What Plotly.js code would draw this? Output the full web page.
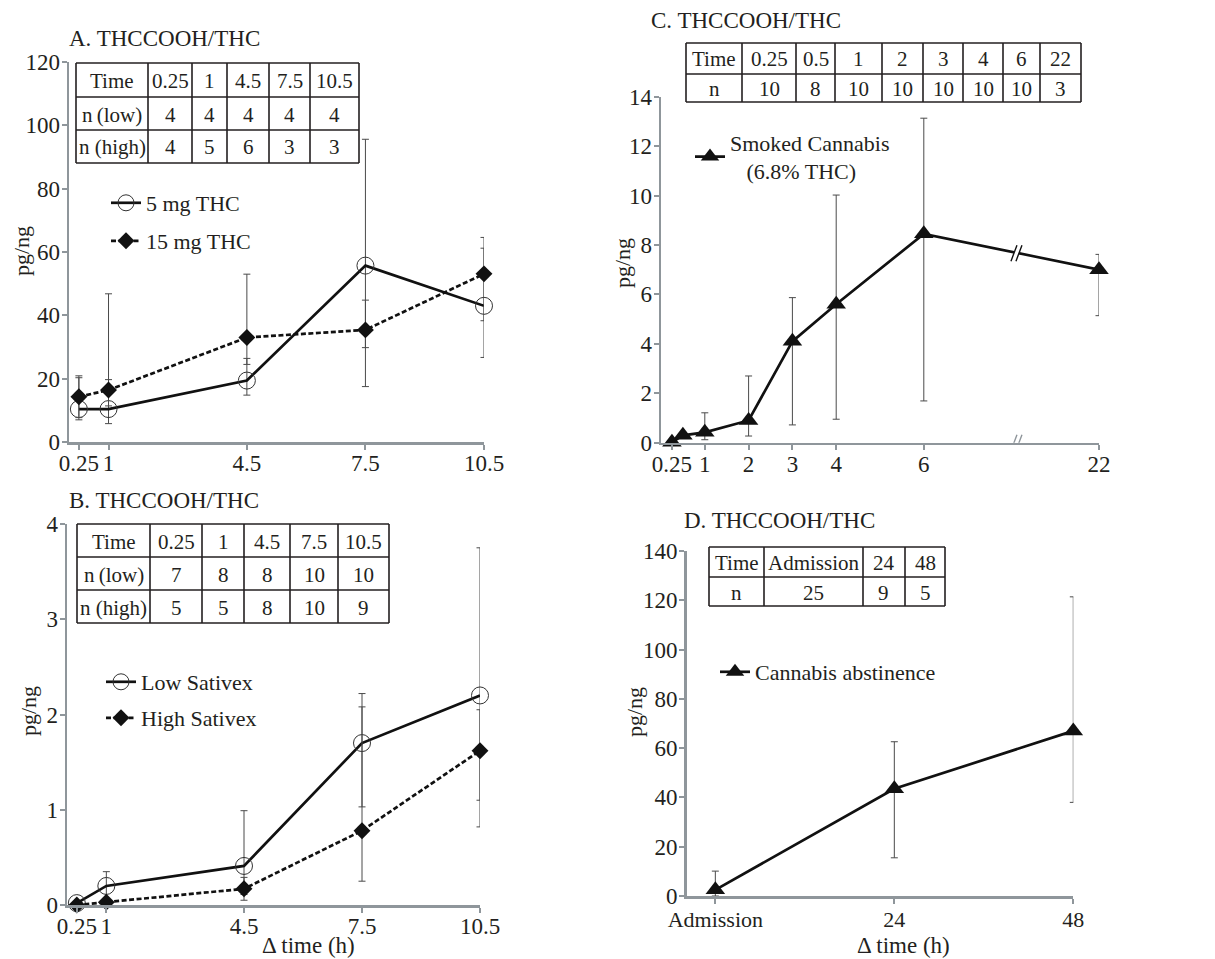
<!DOCTYPE html>
<html>
<head>
<meta charset="utf-8">
<script src="https://cdn.plot.ly/plotly-3.0.1.min.js"></script>
<style>html,body{margin:0;padding:0;background:#fff;}#chart{width:1215px;height:959px;}</style>
</head>
<body>
<div id="chart"></div>
<script>
// ---------------- DATA ----------------
// Panel A
const timesA = [0.25, 1, 4.5, 7.5, 10.5];
const timeLabelsA = ['0.25', '1', '4.5', '7.5', '10.5'];
const lowA = [10.4, 10.4, 19.4, 55.7, 43.0];
const lowA_plus = [9.9, 9.3, 7.0, 39.9, 18.2];
const lowA_minus = [3.4, 4.6, 4.6, 38.2, 16.3];
const highA = [14.3, 16.4, 33.0, 35.4, 53.1];
const highA_plus = [6.6, 30.4, 20.0, 9.4, 11.5];
const highA_minus = [6.6, 5.0, 8.5, 5.6, 14.8];
const nLowA = ['4', '4', '4', '4', '4'];
const nHighA = ['4', '5', '6', '3', '3'];

// Panel B
const timesB = [0.25, 1, 4.5, 7.5, 10.5];
const timeLabelsB = ['0.25', '1', '4.5', '7.5', '10.5'];
const lowB = [0.02, 0.20, 0.41, 1.70, 2.20];
const lowB_plus = [0.0, 0.15, 0.58, 0.52, 1.55];
const lowB_minus = [0.02, 0.15, 0.30, 0.67, 1.10];
const highB = [0.0, 0.03, 0.17, 0.78, 1.62];
const highB_plus = [0.0, 0.02, 0.12, 1.30, 0.43];
const highB_minus = [0.0, 0.03, 0.12, 0.53, 0.80];
const nLowB = ['7', '8', '8', '10', '10'];
const nHighB = ['5', '5', '8', '10', '9'];

// Panel C
const timesC = [0.25, 0.5, 1, 2, 3, 4, 6, 22];
const tableTimeC = ['0.25', '0.5', '1', '2', '3', '4', '6', '22'];
const tickTimesC = [0.25, 1, 2, 3, 4, 6, 22];
const tickLabelsC = ['0.25', '1', '2', '3', '4', '6', '22'];
const smokedC = [0.02, 0.30, 0.42, 0.90, 4.10, 5.60, 8.45, 7.00];
const smokedC_plus = [0.0, 0.10, 0.79, 1.80, 1.77, 4.42, 4.68, 0.62];
const smokedC_minus = [0.0, 0.10, 0.30, 0.63, 3.38, 4.65, 6.76, 1.86];
const nC = ['10', '8', '10', '10', '10', '10', '10', '3'];

// Panel D
const catsD = ['Admission', '24', '48'];
const abstD = [2.5, 43.5, 67.0];
const abstD_plus = [7.6, 19.1, 54.4];
const abstD_minus = [2.5, 28.0, 29.0];
const nD = ['25', '9', '5'];

// ---------------- STYLE / HELPERS ----------------
const W = 1215, H = 959;
const FONT = 'Liberation Serif, Times New Roman, serif';
const TXT = '#231f20';
const AXC = '#8f969b';
const ERRC = '#4a4a4a';
const px = v => v / W;
const py = v => 1 - v / H;

// broken axis in panel C: times after 6 h are drawn at 6 + 4 units
const BREAK_AT = 6, BREAK_POS = 10;
const brokenX = t => (t <= BREAK_AT ? t : BREAK_POS);

const shapes = [];
const annotations = [];

function addTable(colEdges, rowEdges, rows, fs) {
  const x0 = colEdges[0], x1 = colEdges[colEdges.length - 1];
  const y0 = rowEdges[0], y1 = rowEdges[rowEdges.length - 1];
  const ln = {color: TXT, width: 1.6};
  colEdges.forEach(c => shapes.push({type: 'line', xref: 'paper', yref: 'paper', x0: px(c), x1: px(c), y0: py(y0), y1: py(y1), line: ln}));
  rowEdges.forEach(r => shapes.push({type: 'line', xref: 'paper', yref: 'paper', x0: px(x0), x1: px(x1), y0: py(r), y1: py(r), line: ln}));
  rows.forEach((row, ri) => {
    row.forEach((txt, ci) => {
      annotations.push({
        xref: 'paper', yref: 'paper',
        x: px((colEdges[ci] + colEdges[ci + 1]) / 2),
        y: py((rowEdges[ri] + rowEdges[ri + 1]) / 2 + 1),
        text: txt, showarrow: false, xanchor: 'center', yanchor: 'middle',
        font: {family: FONT, size: fs, color: TXT}
      });
    });
  });
}

function label(text, x, y, xanchor, size, angle) {
  annotations.push({xref: 'paper', yref: 'paper', x: px(x), y: py(y), text: text, showarrow: false,
    xanchor: xanchor, yanchor: 'middle', textangle: angle || 0,
    font: {family: FONT, size: size, color: TXT}});
}

// Tables
addTable([76, 148, 192, 227, 269, 310, 359], [63, 97, 130, 163],
  [['Time'].concat(timeLabelsA), ['n\u2009(low)'].concat(nLowA), ['n (high)'].concat(nHighA)], 21);
addTable([77, 150, 202, 244, 290, 338, 389], [524, 557, 590, 623],
  [['Time'].concat(timeLabelsB), ['n\u2009(low)'].concat(nLowB), ['n (high)'].concat(nHighB)], 21);
addTable([686, 742, 796, 835, 882, 923, 963, 1003, 1040, 1081], [43, 74, 102],
  [['Time'].concat(tableTimeC), ['n'].concat(nC)], 21);
addTable([709, 764, 863, 905, 945], [547, 577, 606],
  [['Time'].concat(catsD), ['n', nD[0], nD[1], nD[2]]], 21);

// Panel titles
label('A. THCCOOH/THC', 67, 39, 'left', 23);
label('B. THCCOOH/THC', 67, 500, 'left', 23);
label('C. THCCOOH/THC', 649, 21, 'left', 23);
label('D. THCCOOH/THC', 682, 520, 'left', 23);
// axis titles
label('pg/ng', 21, 251, 'center', 22, -90);
label('pg/ng', 28, 711, 'center', 22, -90);
label('pg/ng', 622, 263, 'center', 22, -90);
label('pg/ng', 634, 712, 'center', 22, -90);
label('\u0394 time (h)', 308, 945, 'center', 23);
label('\u0394 time (h)', 903, 945, 'center', 23);

// Axis break marks for panel C
function breakMark(xv, yv, color) {
  shapes.push({type: 'path', xref: 'x3', yref: 'y3', xsizemode: 'pixel', ysizemode: 'pixel',
    xanchor: xv, yanchor: yv, path: 'M -7 -8 L -1 8 L 4 8 L -2 -8 Z', fillcolor: '#ffffff', line: {width: 0}});
  shapes.push({type: 'path', xref: 'x3', yref: 'y3', xsizemode: 'pixel', ysizemode: 'pixel',
    xanchor: xv, yanchor: yv, path: 'M -7 -8 L -1 8 M -2 -8 L 4 8', line: {color: color, width: 1.4}});
}
const breakX = 8.15;
const i6 = timesC.indexOf(6), i22 = timesC.indexOf(22);
const breakY = smokedC[i6] + (smokedC[i22] - smokedC[i6]) * (breakX - BREAK_AT) / (BREAK_POS - BREAK_AT);
breakMark(breakX, 0, AXC);
breakMark(breakX, breakY, '#111');

// ---------------- TRACES ----------------
function err(plus, minus) {
  return {type: 'data', symmetric: false, array: plus, arrayminus: minus, color: ERRC, thickness: 1, width: 3.5};
}
const solid = {color: '#111', width: 2.7};
const dashed = {color: '#111', width: 2.7, dash: '5px,2.5px'};
const circ = {symbol: 'circle-open', size: 17, color: '#333', line: {width: 1, color: '#333'}};
const diam = {symbol: 'diamond', size: 13, color: '#111', line: {width: 0}};
const tri = {symbol: 'triangle-up', size: 17, color: '#111', line: {width: 0}};

const traces = [
  {x: timesA, y: lowA, xaxis: 'x', yaxis: 'y', mode: 'lines+markers', name: '5 mg THC', legend: 'legend',
   line: solid, marker: circ, error_y: err(lowA_plus, lowA_minus), cliponaxis: false},
  {x: timesA, y: highA, xaxis: 'x', yaxis: 'y', mode: 'lines+markers', name: '15 mg THC', legend: 'legend2',
   line: dashed, marker: diam, error_y: err(highA_plus, highA_minus), cliponaxis: false},
  {x: timesB, y: lowB, xaxis: 'x2', yaxis: 'y2', mode: 'lines+markers', name: 'Low Sativex', legend: 'legend3',
   line: solid, marker: circ, error_y: err(lowB_plus, lowB_minus), cliponaxis: false},
  {x: timesB, y: highB, xaxis: 'x2', yaxis: 'y2', mode: 'lines+markers', name: 'High Sativex', legend: 'legend4',
   line: dashed, marker: diam, error_y: err(highB_plus, highB_minus), cliponaxis: false},
  {x: timesC.map(brokenX), y: smokedC, xaxis: 'x3', yaxis: 'y3', mode: 'lines+markers',
   name: 'Smoked Cannabis<br>\u00a0\u00a0\u00a0(6.8% THC)', legend: 'legend5',
   line: solid, marker: tri, error_y: err(smokedC_plus, smokedC_minus), cliponaxis: false},
  {x: catsD.map((c, i) => i), y: abstD, xaxis: 'x4', yaxis: 'y4', mode: 'lines+markers', name: 'Cannabis abstinence', legend: 'legend6',
   line: solid, marker: tri, error_y: err(abstD_plus, abstD_minus), cliponaxis: false}
];

// ---------------- LAYOUT ----------------
function xAx(domain, range, tickvals, ticktext, anchor, fs, so) {
  return {domain: domain, range: range, anchor: anchor, tickmode: 'array', tickvals: tickvals, ticktext: ticktext,
    tickangle: 0, ticks: 'outside', ticklen: 5, tickwidth: 2, tickcolor: AXC, ticklabelstandoff: (so === undefined ? -6 : so),
    showline: true, linecolor: AXC, linewidth: 2.5, showgrid: false, zeroline: false,
    tickfont: {family: FONT, size: fs || 23, color: TXT}, fixedrange: true};
}
function yAx(domain, range, dtick, anchor) {
  return {domain: domain, range: range, dtick: dtick, tick0: 0, anchor: anchor,
    ticks: 'outside', ticklen: 5, tickwidth: 2, tickcolor: AXC, ticklabelstandoff: -3,
    showline: true, linecolor: AXC, linewidth: 2.5, showgrid: false, zeroline: false,
    tickfont: {family: FONT, size: 23, color: TXT}, fixedrange: true};
}
function leg(x, y) {
  return {x: px(x), y: py(y), xanchor: 'left', yanchor: 'middle', bgcolor: 'rgba(0,0,0,0)', borderwidth: 0,
    font: {family: FONT, size: 22, color: TXT}, itemwidth: 30, itemclick: false, itemdoubleclick: false};
}

const layout = {
  width: W, height: H, autosize: false,
  margin: {l: 0, r: 0, t: 0, b: 0},
  paper_bgcolor: '#ffffff', plot_bgcolor: 'rgba(0,0,0,0)',
  showlegend: true, hovermode: false,
  xaxis: xAx([px(69), px(484)], [0, 10.5], timesA, timeLabelsA, 'y'),
  yaxis: yAx([py(442), py(62)], [0, 120], 20, 'x'),
  xaxis2: xAx([px(67), px(480)], [0, 10.5], timesB, timeLabelsB, 'y2'),
  yaxis2: yAx([py(905), py(524)], [0, 4], 1, 'x2'),
  xaxis3: xAx([px(661), px(1099)], [0, 10], tickTimesC.map(brokenX), tickLabelsC, 'y3'),
  yaxis3: yAx([py(442.7), py(96.7)], [0, 14], 2, 'x3'),
  xaxis4: xAx([px(686.7), px(1073.3)], [-0.16, 2], catsD.map((c, i) => i), catsD, 'y4', 22, -3),
  yaxis4: yAx([py(896), py(551)], [0, 140], 20, 'x4'),
  legend: leg(106, 203),
  legend2: leg(106, 241),
  legend3: leg(101, 682),
  legend4: leg(101, 718),
  legend5: leg(690, 157),
  legend6: leg(715, 672),
  shapes: shapes,
  annotations: annotations
};

Plotly.newPlot('chart', traces, layout, {staticPlot: true, displayModeBar: false});
</script>
</body>
</html>
